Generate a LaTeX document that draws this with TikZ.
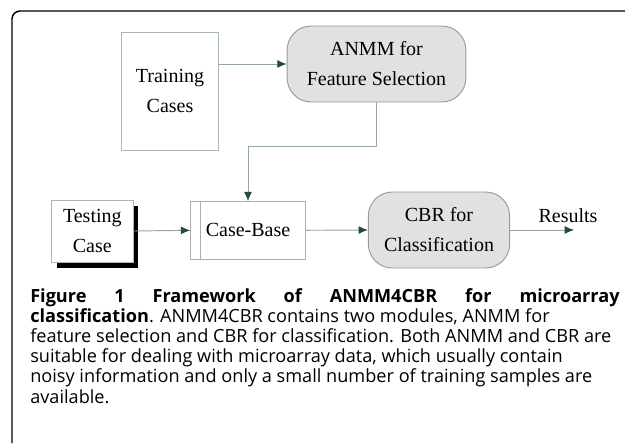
\documentclass[tikz,border=0pt]{standalone}
\usepackage{fontspec}
\setmainfont{Liberation Serif}
\newfontfamily\capfont{Open Sans}
\usetikzlibrary{arrows.meta,shadows}

\definecolor{linegreen}{HTML}{93A89A}
\definecolor{tipgreen}{HTML}{1F4F2F}
\definecolor{boxgray}{HTML}{E1E1E1}
\definecolor{edgegray}{HTML}{9A9A9A}

\begin{document}
\begin{tikzpicture}[
  x=0.75pt, y=-0.75pt,
  >={Latex[length=7pt,width=6pt,color=tipgreen]},
  plain/.style={draw=linegreen!80,line width=0.7pt,fill=white,align=center,
    font=\fontsize{15pt}{22.5pt}\selectfont,inner sep=0pt},
  module/.style={draw=edgegray,line width=0.7pt,fill=boxgray,rounded corners=18pt,
    align=center,font=\fontsize{15pt}{22.5pt}\selectfont,inner sep=0pt},
  flow/.style={->,draw=linegreen,line width=0.7pt},
  capline/.style={anchor=base west,inner sep=0pt,
    font=\capfont\fontsize{13.6pt}{15pt}\selectfont},
]

% ===================================================================
% Frame and page size
% ===================================================================
\useasboundingbox (0,0) rectangle (625,443);
\draw[line width=1.1pt,rounded corners=6pt] (12,443) -- (12,11) -- (625,11);

% ===================================================================
% Boxes
% ===================================================================
\node[plain,minimum width=73pt,minimum height=88.5pt] (train) at (170,91) {Training\\Cases};
\node[module,minimum width=134pt,minimum height=57pt] (anmm) at (376.5,64) {ANMM for\\Feature Selection};

\node[plain,minimum width=61pt,minimum height=46.5pt,
  drop shadow={shadow xshift=3.75pt,shadow yshift=-4.5pt,fill=black,opacity=1}]
  (test) at (92.3,231) {Testing\\Case};
\node[plain,draw=edgegray!80,minimum width=86pt,minimum height=43pt] (cbase) at (248,230.3) {Case-Base};
\draw[edgegray!80,line width=0.7pt] ([xshift=8pt]cbase.north west) -- ([xshift=8pt]cbase.south west);

\node[module,minimum width=106pt,minimum height=57pt] (cbr) at (439,230) {CBR for\\Classification};
\node[font=\fontsize{15pt}{18pt}\selectfont,inner sep=0pt] (res) at (568,216) {Results};

% ===================================================================
% Connectors
% ===================================================================
\coordinate (bend) at (248,146);
\coordinate (resend) at (574,230);

\draw[flow] (train.east |- anmm.west) -- (anmm.west);
\draw[flow] (anmm.south) |- (bend) -- (cbase.north);
\draw[flow] (test.east) -- (cbase.west);
\draw[flow] (cbase.east) -- (cbr.west);
\draw[flow] (cbr.east) -- (resend);

% ===================================================================
% Caption
% ===================================================================
\node[capline] (cap1) at (30,302) {\makebox[442pt][s]{\bfseries Figure 1 Framework of ANMM4CBR for microarray}};
\node[capline] (cap2) at (30,322.2) {\textbf{classification}. ANMM4CBR contains two modules, ANMM for};
\node[capline] (cap3) at (30,342.4) {feature selection and CBR for classification. Both ANMM and CBR are};
\node[capline] (cap4) at (30,362.6) {suitable for dealing with microarray data, which usually contain};
\node[capline] (cap5) at (30,382.8) {noisy information and only a small number of training samples are};
\node[capline] (cap6) at (30,403) {available.};

\end{tikzpicture}
\end{document}
